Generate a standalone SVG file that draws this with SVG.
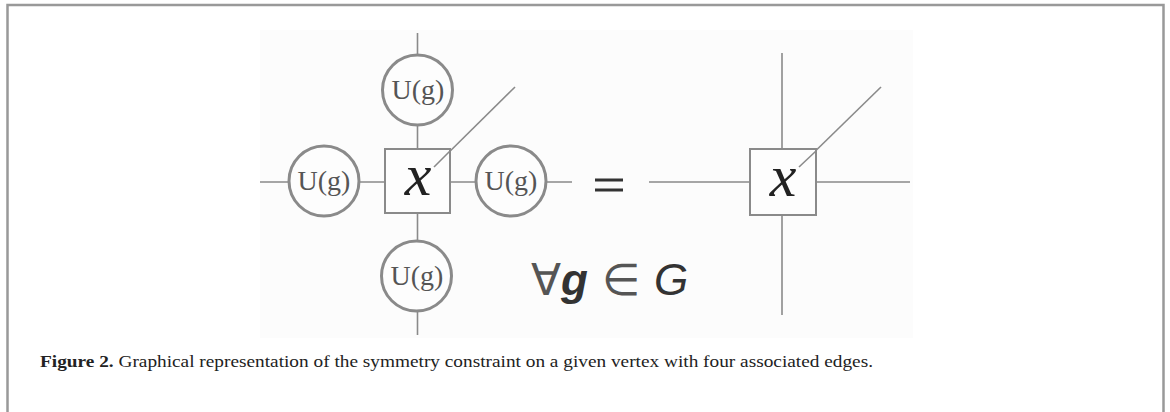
<svg xmlns="http://www.w3.org/2000/svg" width="1170" height="412" viewBox="0 0 1170 412">
<style>
.edge{stroke:#8a8a8a;stroke-width:1.6;fill:none}
.circ{fill:#fdfdfd;stroke:#8a8a8a;stroke-width:3}
.sq{fill:#fdfdfd;stroke:#8a8a8a;stroke-width:2}
.u{font-family:"Liberation Serif",serif;font-size:28px;fill:#555;text-anchor:middle}
.x{font-family:"Liberation Serif",serif;font-style:italic;font-size:60px;fill:#222;text-anchor:middle}
.m{font-family:"Liberation Sans",sans-serif;font-size:44px;fill:#333}
.cap{font-family:"Liberation Serif",serif;font-size:17px;fill:#222}
</style>
<rect width="1170" height="412" fill="#fff"/>
<path d="M7.5 412 V5 H1163.5 V412" fill="none" stroke="#999" stroke-width="2.5"/>
<rect x="260" y="30" width="653" height="308" fill="#fcfcfc"/>
<g id="connectors">
<line class="edge" x1="417.5" y1="33" x2="417.5" y2="149"/>
<line class="edge" x1="417.5" y1="213" x2="417.5" y2="335"/>
<line class="edge" x1="260" y1="182" x2="385" y2="182"/>
<line class="edge" x1="450" y1="182" x2="572" y2="182"/>
<line class="edge" x1="434" y1="167" x2="515" y2="87"/>
<line class="edge" x1="782" y1="53" x2="782" y2="149"/>
<line class="edge" x1="782" y1="215" x2="782" y2="315"/>
<line class="edge" x1="649" y1="182" x2="750" y2="182"/>
<line class="edge" x1="816" y1="182" x2="910" y2="182"/>
<line class="edge" x1="799" y1="167" x2="881" y2="87"/>
</g>
<g id="u-top"><circle class="circ" cx="417.5" cy="90" r="35"/><text class="u" x="418" y="99">U(g)</text></g>
<g id="u-left"><circle class="circ" cx="324" cy="181" r="35"/><text class="u" x="324" y="190">U(g)</text></g>
<g id="u-right"><circle class="circ" cx="511" cy="181" r="35"/><text class="u" x="511" y="190">U(g)</text></g>
<g id="u-bottom"><circle class="circ" cx="416.5" cy="276" r="35"/><text class="u" x="417" y="285">U(g)</text></g>
<g id="x-left"><rect class="sq" x="385" y="149" width="65" height="64"/><line class="edge" x1="434" y1="167" x2="450" y2="151"/><text class="x" x="418" y="195">x</text></g>
<g id="x-right"><rect class="sq" x="750" y="149" width="66" height="66"/><line class="edge" x1="799" y1="167" x2="816" y2="151"/><text class="x" x="783" y="196">x</text></g>
<g id="equals"><rect x="595" y="178.5" width="28" height="3" fill="#333"/><rect x="595" y="188.5" width="28" height="3" fill="#333"/></g>
<g id="forall"><text class="m" x="531" y="295"><tspan fill="#555">∀</tspan><tspan font-style="italic" font-weight="bold">g</tspan><tspan dx="14" fill="#555">∈</tspan><tspan dx="14" font-style="italic">G</tspan></text></g>
<text class="cap" x="40" y="367" textLength="833" lengthAdjust="spacingAndGlyphs"><tspan font-weight="bold">Figure 2.</tspan> Graphical representation of the symmetry constraint on a given vertex with four associated edges.</text>
</svg>
